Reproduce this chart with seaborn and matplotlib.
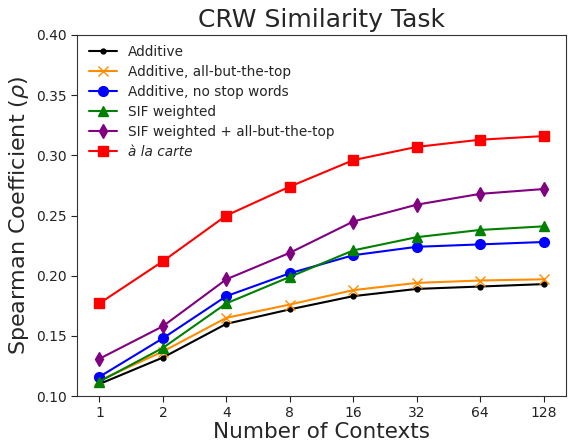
import numpy as np
import pandas as pd
import seaborn as sns
import matplotlib
matplotlib.use('Agg')
import matplotlib.pyplot as plt

contexts = ['1', '2', '4', '8', '16', '32', '64', '128']

additive      = [0.110, 0.132, 0.160, 0.172, 0.183, 0.189, 0.191, 0.193]
additive_abtt = [0.113, 0.137, 0.165, 0.176, 0.188, 0.194, 0.196, 0.197]
additive_nsw  = [0.116, 0.148, 0.183, 0.202, 0.217, 0.224, 0.226, 0.228]
sif           = [0.112, 0.140, 0.177, 0.199, 0.221, 0.232, 0.238, 0.241]
sif_abtt      = [0.131, 0.158, 0.197, 0.219, 0.245, 0.259, 0.268, 0.272]
alacarte      = [0.177, 0.212, 0.250, 0.274, 0.296, 0.307, 0.313, 0.316]

methods = ['Additive', 'Additive, all-but-the-top', 'Additive, no stop words',
           'SIF weighted', 'SIF weighted + all-but-the-top', 'à la carte']
series = [additive, additive_abtt, additive_nsw, sif, sif_abtt, alacarte]
colors = ['black', 'darkorange', 'blue', 'green', 'purple', 'red']
markers = ['.', 'x', 'o', '^', 'd', 's']

sns.set_style('ticks')

fig = plt.figure(figsize=(5.68, 4.43), dpi=100)
ax = fig.add_axes([0.136, 0.106, 0.860, 0.815])

# one line per method so filled and line-art markers can mix
for m, vals, c, mk in zip(methods, series, colors, markers):
    d = pd.DataFrame({'pos': range(len(contexts)), 'rho': vals})
    sns.lineplot(data=d, x='pos', y='rho', color=c, marker=mk,
                 markersize=7, markeredgecolor=c, markeredgewidth=1,
                 linewidth=1.5, label=m, ax=ax)

ax.set_xticks(range(len(contexts)))
ax.set_xticklabels(contexts)
ax.set_ylim(0.10, 0.40)
yt = np.arange(0.10, 0.401, 0.05)
ax.set_yticks(yt)
ax.set_yticklabels([f'{t:.2f}' for t in yt])
ax.tick_params(labelsize=10, direction='out', length=4, colors='#222222')

ax.set_title('CRW Similarity Task', fontsize=18)
ax.set_xlabel('Number of Contexts', fontsize=15.5, labelpad=1)
ax.set_ylabel(r'Spearman Coefficient ($\rho$)', fontsize=16)

leg = ax.legend(loc='upper left', fontsize=9.8, frameon=False,
                labelspacing=0.45, bbox_to_anchor=(0, 1.0075))
leg.get_texts()[-1].set_fontstyle('italic')

for s in ax.spines.values():
    s.set_color('#333333')

fig.savefig('out.png', dpi=100)
